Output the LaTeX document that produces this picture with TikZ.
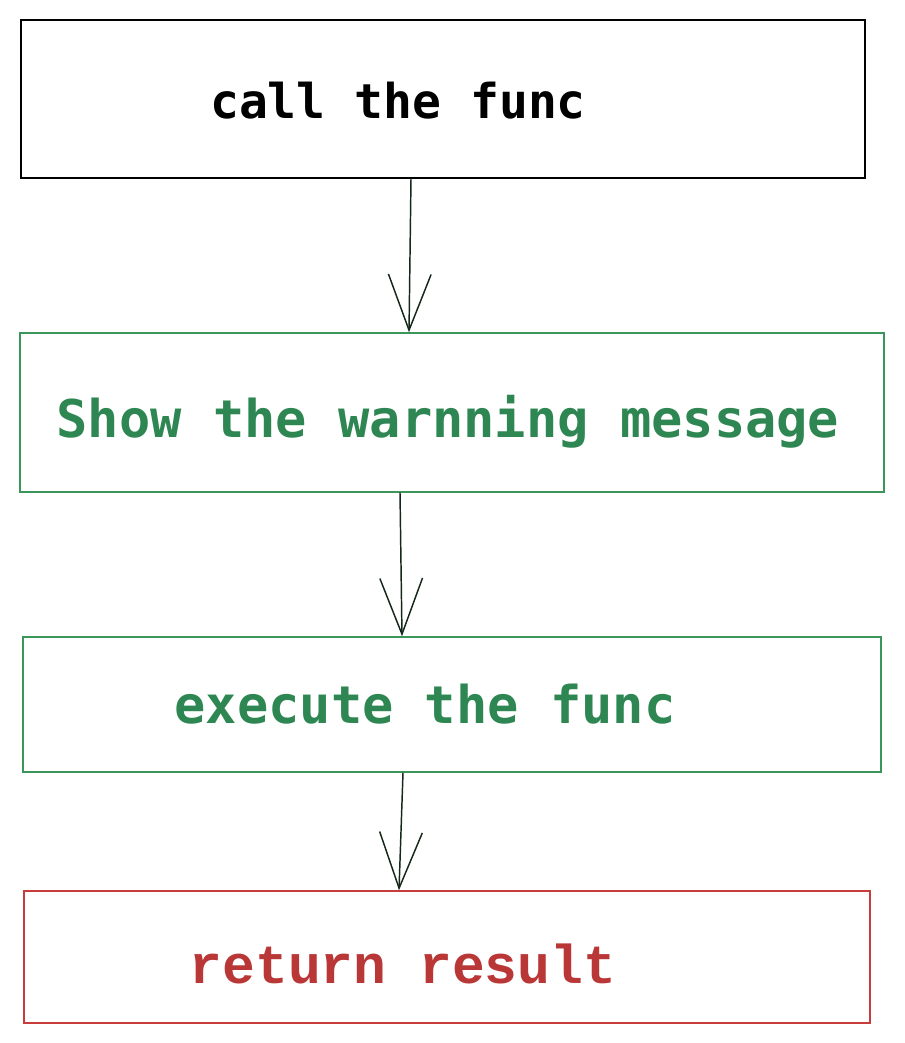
\documentclass[tikz,border=0pt]{standalone}
\usepackage{fontspec}
\usetikzlibrary{arrows.meta}
\newfontfamily\sansmono{DejaVu Sans Mono}
\newfontfamily\serifmono{Liberation Mono}
\definecolor{boxgreen}{RGB}{60,150,90}
\definecolor{txtgreen}{RGB}{46,134,82}
\definecolor{boxred}{RGB}{200,60,60}
\definecolor{txtred}{RGB}{185,55,55}
\definecolor{arrcol}{RGB}{20,40,25}
\tikzset{
  box/.style={draw, line width=1.1pt, inner sep=0pt},
  lbl/.style={anchor=base, inner sep=0pt},
  arr/.style={draw=arrcol, line width=1.1pt, -{Straight Barb[length=42pt,width=32pt,line width=1.1pt]}},
}
\begin{document}
\begin{tikzpicture}[x=0.75pt,y=-0.75pt]
\useasboundingbox (0,0) rectangle (904,1043);
\node[box, draw=black, minimum width=633pt, minimum height=118.5pt] (b1) at (443,99) {};
\node[box, draw=boxgreen, minimum width=648pt, minimum height=119.25pt] (b2) at (452,412.5) {};
\node[box, draw=boxgreen, minimum width=643.5pt, minimum height=101.25pt] (b3) at (452,704.5) {};
\node[box, draw=boxred, minimum width=634.5pt, minimum height=99pt] (b4) at (447,957) {};
\node[lbl, text=black, font=\sansmono\bfseries\fontsize{36}{40}\selectfont] (t1) at (398,118) {call the func};
\node[lbl, text=txtgreen, font=\sansmono\bfseries\fontsize{39}{44}\selectfont] (t2) at (448,437) {Show the warnning message};
\node[lbl, text=txtgreen, font=\sansmono\bfseries\fontsize{39}{44}\selectfont] (t3) at (425,723) {execute the func};
\node[lbl, text=txtred, font=\serifmono\bfseries\fontsize{41}{46}\selectfont] (t4) at (403,983) {return result};
\draw[arr] ([xshift=-24pt]b1.south) -- ([xshift=-32.25pt]b2.north);
\draw[arr] ([xshift=-39pt]b2.south) -- ([xshift=-37.5pt]b3.north);
\draw[arr] ([xshift=-36.75pt]b3.south) -- ([xshift=-36pt]b4.north);
\end{tikzpicture}
\end{document}
